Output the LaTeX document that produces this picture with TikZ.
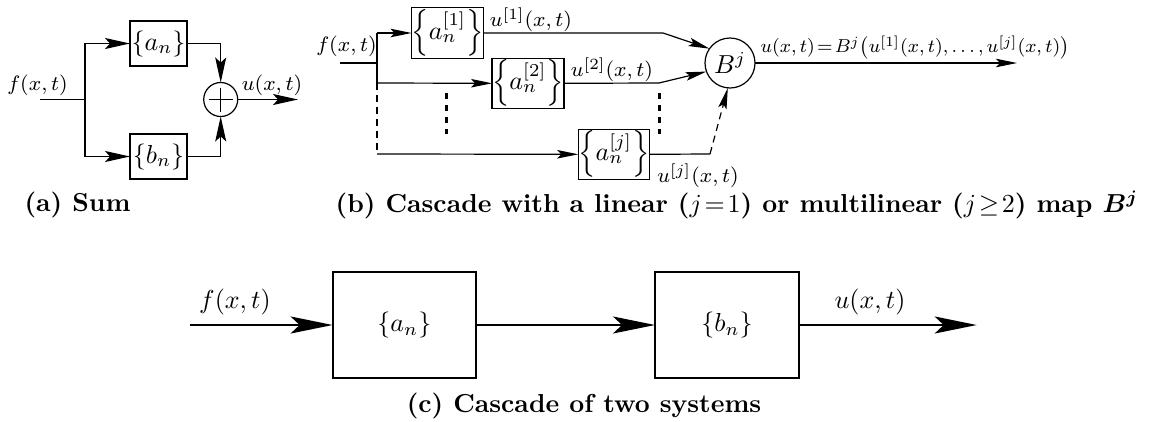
\documentclass[tikz,border=0pt]{standalone}
\usepackage{amsmath}
\usepackage{graphicx}
\usetikzlibrary{arrows.meta}
\newcommand{\lab}[1]{\scalebox{2.6}{\footnotesize$#1$}}
\newcommand{\labn}[1]{\scalebox{2.6}{$#1$}}
\newcommand{\bxt}[1]{\scalebox{2.6}{$#1$}}
\newcommand{\capt}[1]{\scalebox{2.6}{\bfseries #1}}
\begin{document}
\begin{tikzpicture}[x=1pt,y=-1pt,
  every node/.style={inner sep=0pt, outer sep=0pt},
  ln/.style={line width=1.2pt},
  lnC/.style={line width=2pt},
  sys/.style={draw, rectangle, line width=1.2pt},
  sysC/.style={draw, rectangle, line width=2pt},
  arrA/.style={-{Stealth[length=25pt,width=11pt,inset=5pt]}},
  arrB/.style={-{Stealth[length=21pt,width=8.5pt,inset=4pt]}},
  arrC/.style={-{Stealth[length=42pt,width=17pt,inset=9pt]}},
  dsh/.style={dash pattern=on 7pt off 5pt},
  dotsline/.style={line width=3pt, dash pattern=on 6pt off 6pt}
]
\useasboundingbox (0,0) rectangle (1156,421);

% ---------------- (a) ----------------
\coordinate (ain) at (40,99.5);
\coordinate (aJ) at (85,99.5);
\coordinate (aout) at (298,99.5);
\node[sys, minimum width=57pt, minimum height=45pt] (an) at (158.5,43.5) {\bxt{\{a_n\}}};
\node[sys, minimum width=57pt, minimum height=45pt] (bn) at (158.5,156.5) {\bxt{\{b_n\}}};
\node[draw, circle, line width=1.2pt, minimum size=34pt] (sum) at (220.7,99.5) {};
\draw[ln] (sum.center) ++(-12,0) -- ++(24,0);
\draw[ln] (sum.center) ++(0,-12) -- ++(0,24);
\draw[ln] (ain) -- (aJ);
\draw[ln, arrA] (aJ) |- (an.west);
\draw[ln, arrA] (aJ) |- (bn.west);
\draw[ln, arrA] (an.east) -| (sum.north);
\draw[ln, arrA] (bn.east) -| (sum.south);
\draw[ln, arrA] (sum.east) -- (aout);
\node (af) at (37.5,85) {\lab{f(x,t)}};
\node (au) at (272,85) {\lab{u(x,t)}};
\node (capa) at (77.5,205) {\capt{(a) Sum}};

% ---------------- (b) ----------------
\coordinate (bin) at (340,63);
\coordinate (bJ) at (377,63);
\coordinate (bJ1) at (377,33);
\coordinate (bJ2) at (377,83);
\coordinate (bJj) at (377,154);
\node[sys, minimum width=71.5pt, minimum height=51pt] (b1) at (447.5,33) {\bxt{\Bigl\{a_n^{[1]}\Bigr\}}};
\node[sys, minimum width=71pt, minimum height=50pt] (b2) at (528,83.3) {\bxt{\left\{a_n^{[2]}\right\}}};
\node[sys, minimum width=71pt, minimum height=50pt] (bj) at (613.8,154.3) {\bxt{\left\{a_n^{[j]}\right\}}};
\node[draw, circle, line width=1.2pt, minimum size=50pt] (B) at (730,63) {\bxt{B^j}};
\coordinate (b1k) at (663,33);
\coordinate (b2k) at (659,83);
\coordinate (bjk) at (710,154);
\coordinate (bout) at (1017,63);
\draw[ln] (bin) -- (bJ);
\draw[ln] (bJ1) -- (bJ2);
\draw[ln, dsh] (bJ2) -- (bJj);
\draw[ln, arrB] (bJ1) -- (b1.west);
\draw[ln, arrB] (bJ2) -- (b2.west);
\draw[ln, arrB] (bJj) -- (bj.west);
\draw[ln, arrB] (b1.east) -- (b1k) -- (B.145);
\draw[ln, arrB] (b2.east) -- (b2k) -- (B.200);
\draw[ln] (bj.east) -- (bjk);
\draw[ln, dsh, arrB] (bjk) -- (B.265);
\draw[ln, arrB] (B.east) -- (bout);
\draw[dotsline] (446.7,93) -- (446.7,134);
\draw[dotsline] (659.3,93) -- (659.3,134);
\node (bf) at (346.5,46.5) {\lab{f(x,t)}};
\node (bu1) at (531,20) {\lab{u^{[1]}(x,t)}};
\node (bu2) at (612,70) {\lab{u^{[2]}(x,t)}};
\node (buj) at (698,176) {\lab{u^{[j]}(x,t)}};
\node (bul) at (915,47.5) {\scalebox{2.34}{\footnotesize$u(x,t)\!=\!B^j\bigl(u^{[1]}(x,t),\ldots,u^{[j]}(x,t)\bigr)$}};
\node (capb) at (737,205) {\capt{(b) Cascade with a linear ($j\!=\!1$) or multilinear ($j\!\geq\!2$) map $\boldsymbol{B^j}$}};

% ---------------- (c) ----------------
\coordinate (cin) at (190,325);
\coordinate (cout) at (976.7,325);
\node[sysC, minimum width=143.3pt, minimum height=106.6pt] (ca) at (404.3,325) {\bxt{\{a_n\}}};
\node[sysC, minimum width=144pt, minimum height=106.6pt] (cb) at (727,325) {\bxt{\{b_n\}}};
\draw[lnC, arrC] (cin) -- (ca.west);
\draw[lnC, arrC] (ca.east) -- (cb.west);
\draw[lnC, arrC] (cb.east) -- (cout);
\node (cf) at (235,302) {\labn{f(x,t)}};
\node (cu) at (870,302) {\labn{u(x,t)}};
\node (capc) at (584,406) {\capt{(c) Cascade of two systems}};
\end{tikzpicture}
\end{document}
